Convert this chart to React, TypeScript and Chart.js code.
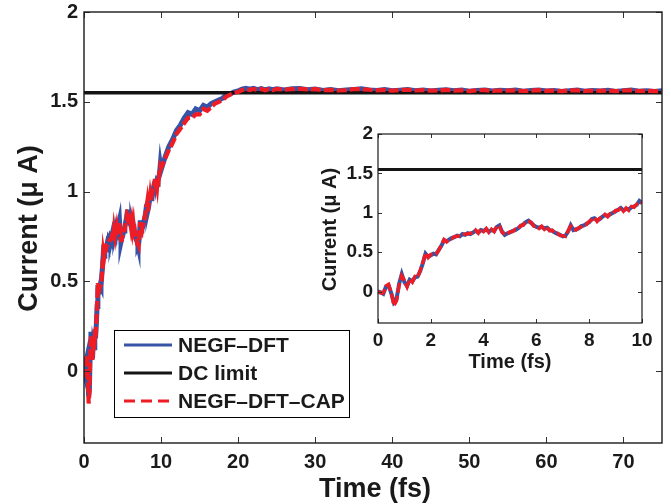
import React, { useEffect, useRef } from 'react';
import { Chart, registerables } from 'chart.js';

Chart.register(...registerables);

// ---------- data ----------
const timeFs = [
  0, 0.1, 0.2, 0.3, 0.4, 0.5, 0.6, 0.7, 0.8, 0.9,
  1.0, 1.1, 1.2, 1.3, 1.4, 1.5, 1.6, 1.7, 1.8, 1.9,
  2.0, 2.1, 2.2, 2.3, 2.4, 2.5, 2.6, 2.7, 2.8, 2.9,
  3.0, 3.1, 3.2, 3.3, 3.4, 3.5, 3.6, 3.7, 3.8, 3.9,
  4.0, 4.1, 4.2, 4.3, 4.4, 4.5, 4.6, 4.7, 4.8, 4.9,
  5.0, 5.1, 5.2, 5.3, 5.4, 5.5, 5.6, 5.7, 5.8, 5.9,
  6.0, 6.1, 6.2, 6.3, 6.4, 6.5, 6.6, 6.7, 6.8, 6.9,
  7.0, 7.1, 7.2, 7.3, 7.4, 7.5, 7.6, 7.7, 7.8, 7.9,
  8.0, 8.1, 8.2, 8.3, 8.4, 8.5, 8.6, 8.7, 8.8, 8.9,
  9.0, 9.1, 9.2, 9.3, 9.4, 9.5, 9.6, 9.7, 9.8, 9.9,
  10.0,
  10.5, 11, 11.5, 12, 12.5, 13, 13.5, 14, 14.5, 15,
  15.5, 16, 16.5, 17, 17.5, 18, 18.5, 19, 19.5, 20,
  20.5, 21, 21.5, 22, 22.5, 23, 23.5, 24, 24.5, 25,
  26, 27, 28, 29, 30, 31, 32, 33, 34, 35,
  36, 37, 38, 39, 40, 41, 42, 43, 44, 45,
  46, 47, 48, 49, 50, 51, 52, 53, 54, 55,
  56, 57, 58, 59, 60, 61, 62, 63, 64, 65,
  66, 67, 68, 69, 70, 71, 72, 73, 74, 75,
];

const negfDft = [
  0.00, -0.01, -0.03, 0.06, 0.08, -0.02, -0.14, -0.10, 0.10, 0.22,
  0.12, 0.07, 0.15, 0.13, 0.18, 0.19, 0.26, 0.36, 0.48, 0.44,
  0.46, 0.48, 0.47, 0.53, 0.58, 0.65, 0.64, 0.66, 0.68, 0.69,
  0.71, 0.70, 0.73, 0.72, 0.74, 0.73, 0.75, 0.77, 0.75, 0.78,
  0.77, 0.79, 0.76, 0.78, 0.77, 0.82, 0.84, 0.76, 0.72, 0.74,
  0.75, 0.77, 0.78, 0.80, 0.83, 0.85, 0.88, 0.90, 0.87, 0.84,
  0.82, 0.81, 0.82, 0.80, 0.81, 0.78, 0.77, 0.75, 0.73, 0.72,
  0.70, 0.71, 0.76, 0.84, 0.78, 0.79, 0.80, 0.83, 0.84, 0.86,
  0.88, 0.92, 0.93, 0.90, 0.92, 0.95, 0.97, 0.96, 0.98, 1.00,
  1.02, 1.04, 1.06, 1.03, 1.05, 1.04, 1.07, 1.08, 1.10, 1.15,
  1.12,
  1.19, 1.25, 1.29, 1.34, 1.37, 1.41, 1.44, 1.43, 1.46, 1.45,
  1.48, 1.47, 1.49, 1.50, 1.51, 1.52, 1.54, 1.545, 1.555, 1.56,
  1.57, 1.575, 1.57, 1.575, 1.568, 1.574, 1.566, 1.572, 1.567, 1.573,
  1.566, 1.572, 1.574, 1.567, 1.571, 1.563, 1.568, 1.561, 1.566, 1.569,
  1.572, 1.566, 1.563, 1.568, 1.561, 1.565, 1.568, 1.562, 1.566, 1.56,
  1.564, 1.567, 1.561, 1.565, 1.559, 1.563, 1.566, 1.56, 1.564, 1.561,
  1.565, 1.559, 1.563, 1.566, 1.56, 1.563, 1.558, 1.562, 1.565, 1.559,
  1.563, 1.56, 1.564, 1.558, 1.562, 1.565, 1.559, 1.562, 1.558, 1.561,
];

const negfDftCap = [
  0.00, -0.02, -0.02, 0.07, 0.09, -0.01, -0.18, -0.12, 0.08, 0.20,
  0.14, 0.06, 0.16, 0.12, 0.19, 0.18, 0.27, 0.37, 0.49, 0.43,
  0.47, 0.47, 0.48, 0.52, 0.59, 0.66, 0.63, 0.66, 0.67, 0.70,
  0.70, 0.71, 0.72, 0.73, 0.73, 0.74, 0.74, 0.78, 0.74, 0.79,
  0.76, 0.80, 0.75, 0.79, 0.76, 0.83, 0.83, 0.75, 0.73, 0.73,
  0.76, 0.76, 0.79, 0.79, 0.84, 0.84, 0.89, 0.89, 0.88, 0.83,
  0.83, 0.80, 0.83, 0.79, 0.82, 0.77, 0.78, 0.74, 0.74, 0.71,
  0.71, 0.70, 0.77, 0.83, 0.79, 0.78, 0.81, 0.82, 0.85, 0.85,
  0.89, 0.91, 0.94, 0.89, 0.93, 0.94, 0.98, 0.95, 0.99, 0.99,
  1.03, 1.03, 1.07, 1.02, 1.06, 1.03, 1.08, 1.07, 1.11, 1.14,
  1.13,
  1.18, 1.23, 1.27, 1.32, 1.35, 1.38, 1.41, 1.41, 1.43, 1.43,
  1.46, 1.45, 1.47, 1.49, 1.50, 1.51, 1.53, 1.54, 1.55, 1.555,
  1.565, 1.57, 1.565, 1.572, 1.566, 1.571, 1.564, 1.57, 1.565, 1.571,
  1.568, 1.57, 1.572, 1.569, 1.57, 1.565, 1.566, 1.563, 1.565, 1.57,
  1.57, 1.567, 1.564, 1.566, 1.562, 1.566, 1.567, 1.563, 1.565, 1.562,
  1.563, 1.566, 1.562, 1.564, 1.56, 1.564, 1.565, 1.561, 1.563, 1.562,
  1.564, 1.56, 1.562, 1.565, 1.561, 1.562, 1.559, 1.563, 1.564, 1.56,
  1.562, 1.561, 1.563, 1.559, 1.563, 1.564, 1.56, 1.561, 1.559, 1.56,
];

const dcLimitTime = [0, 75];
const dcLimitValue = [1.55, 1.55];

const seriesLabels = ['NEGF\u2013DFT', 'DC limit', 'NEGF\u2013DFT\u2013CAP'];

const mainXTicks = [0, 10, 20, 30, 40, 50, 60, 70];
const mainYTicks = [0, 0.5, 1, 1.5, 2];
const insetXTicks = [0, 2, 4, 6, 8, 10];
const insetYTicks = [0, 0.5, 1, 1.5, 2];

const xTitle = 'Time (fs)';
const yTitle = 'Current (\u03bc A)';

// ---------- styles ----------
const FONT = '"Liberation Sans", Arial, Helvetica, sans-serif';
const BLUE = '#3653a5';
const RED = '#ee1d25';
const BLACK = '#141414';
const INK = '#1a1a1a';

function buildDatasets(blueW: number, redW: number, dcW: number) {
  return [
    {
      label: seriesLabels[0],
      data: timeFs.map((t, i) => ({ x: t, y: negfDft[i] })),
      borderColor: BLUE,
      borderWidth: blueW,
      pointRadius: 0,
      tension: 0,
      order: 3,
    },
    {
      label: seriesLabels[1],
      data: dcLimitTime.map((t, i) => ({ x: t, y: dcLimitValue[i] })),
      borderColor: BLACK,
      borderWidth: dcW,
      pointRadius: 0,
      tension: 0,
      order: 2,
    },
    {
      label: seriesLabels[2],
      data: timeFs.map((t, i) => ({ x: t, y: negfDftCap[i] })),
      borderColor: RED,
      borderWidth: redW,
      borderDash: [10, 3],
      pointRadius: 0,
      tension: 0,
      order: 1,
    },
  ];
}

const framePlugin = {
  id: 'frame',
  beforeDraw(chart: any, _args: any, opts: any) {
    if (opts.whiteBg) {
      const a = chart.chartArea;
      const ctx = chart.ctx;
      ctx.save();
      ctx.fillStyle = '#ffffff';
      ctx.fillRect(a.left, a.top, a.right - a.left, a.bottom - a.top);
      ctx.restore();
    }
  },
  afterDraw(chart: any, _args: any, opts: any) {
    const { ctx, chartArea: a, scales } = chart;
    ctx.save();
    // inward ticks
    ctx.strokeStyle = '#333333';
    ctx.lineWidth = 1;
    const L = opts.tickLen;
    ctx.beginPath();
    (opts.xTicks as number[]).forEach((v) => {
      const px = Math.round(scales.x.getPixelForValue(v)) + 0.5;
      ctx.moveTo(px, a.bottom);
      ctx.lineTo(px, a.bottom - L);
      ctx.moveTo(px, a.top);
      ctx.lineTo(px, a.top + L);
    });
    (opts.yTicks as number[]).forEach((v) => {
      const py = Math.round(scales.y.getPixelForValue(v)) + 0.5;
      ctx.moveTo(a.left, py);
      ctx.lineTo(a.left + L, py);
      ctx.moveTo(a.right, py);
      ctx.lineTo(a.right - L, py);
    });
    ctx.stroke();
    // frame
    ctx.strokeStyle = INK;
    ctx.lineWidth = opts.frameWidth;
    ctx.strokeRect(a.left, a.top, a.right - a.left, a.bottom - a.top);

    // titles
    ctx.fillStyle = INK;
    ctx.font = `bold ${opts.titleSize}px ${FONT}`;
    ctx.textAlign = 'center';
    ctx.textBaseline = 'alphabetic';
    ctx.fillText(xTitle, (a.left + a.right) / 2 + opts.xTitleDx, opts.xTitleBaseline);
    ctx.save();
    ctx.translate(opts.yTitleBaseline, (a.top + a.bottom) / 2 + opts.yTitleDy);
    ctx.rotate(-Math.PI / 2);
    ctx.fillText(yTitle, 0, 0);
    ctx.restore();

    // legend
    if (opts.legend) {
      const lg = opts.legend;
      ctx.fillStyle = '#ffffff';
      ctx.fillRect(lg.x, lg.y, lg.w, lg.h);
      ctx.strokeStyle = '#000000';
      ctx.lineWidth = 1;
      ctx.strokeRect(lg.x + 0.5, lg.y + 0.5, lg.w, lg.h);
      const ds = chart.data.datasets;
      ctx.font = `bold ${lg.fontSize}px ${FONT}`;
      ctx.textAlign = 'left';
      ctx.textBaseline = 'middle';
      ds.forEach((d: any, i: number) => {
        const y = lg.rows[i];
        ctx.beginPath();
        ctx.strokeStyle = d.borderColor;
        ctx.lineWidth = lg.lineWidth;
        ctx.setLineDash(d.borderDash ? lg.dash : []);
        ctx.moveTo(lg.lineX0, y);
        ctx.lineTo(lg.lineX1, y);
        ctx.stroke();
        ctx.setLineDash([]);
        ctx.fillStyle = INK;
        ctx.fillText(d.label, lg.textX, y + 1);
      });
    }
    ctx.restore();
  },
};

function makeScales(xMax: number, xTicks: number[], yTicks: number[], yWidth: number, xHeight: number, fontSize: number, yPad: number, xPad: number) {
  return {
    x: {
      type: 'linear' as const,
      min: 0,
      max: xMax,
      grid: { display: false, drawTicks: false },
      border: { display: false },
      afterBuildTicks: (s: any) => {
        s.ticks = xTicks.map((v) => ({ value: v }));
      },
      afterFit: (s: any) => {
        s.height = xHeight;
        s.paddingLeft = 0;
        s.paddingRight = 0;
        s.paddingTop = 0;
        s.paddingBottom = 0;
      },
      ticks: {
        autoSkip: false,
        maxRotation: 0,
        padding: xPad,
        color: INK,
        font: { family: FONT, size: fontSize, weight: 'bold' as const },
        callback: (v: any) => String(v),
      },
    },
    y: {
      type: 'linear' as const,
      min: -0.4,
      max: 2,
      grid: { display: false, drawTicks: false },
      border: { display: false },
      afterBuildTicks: (s: any) => {
        s.ticks = yTicks.map((v) => ({ value: v }));
      },
      afterFit: (s: any) => {
        s.width = yWidth;
        s.paddingLeft = 0;
        s.paddingRight = 0;
        s.paddingTop = 0;
        s.paddingBottom = 0;
      },
      ticks: {
        autoSkip: false,
        padding: yPad,
        color: INK,
        font: { family: FONT, size: fontSize, weight: 'bold' as const },
        callback: (v: any) => String(v),
      },
    },
  };
}

export default function App() {
  const mainRef = useRef<HTMLCanvasElement | null>(null);
  const insetRef = useRef<HTMLCanvasElement | null>(null);

  useEffect(() => {
    if (!mainRef.current || !insetRef.current) return;
    const main = new Chart(mainRef.current, {
      type: 'line',
      data: { datasets: buildDatasets(5, 4.2, 3.4) as any },
      options: {
        animation: false,
        responsive: false,
        devicePixelRatio: 1,
        layout: { padding: { top: 12, right: 9, left: 0, bottom: 0 } },
        scales: makeScales(75, mainXTicks, mainYTicks, 84, 61, 20, 6, 7) as any,
        plugins: {
          legend: { display: false },
          tooltip: { enabled: false },
          frame: {
            tickLen: 6,
            frameWidth: 1.4,
            xTicks: mainXTicks,
            yTicks: mainYTicks,
            titleSize: 27,
            xTitleDx: 2,
            xTitleBaseline: 497,
            yTitleBaseline: 37,
            yTitleDy: 1,
            legend: {
              x: 114,
              y: 330,
              w: 235,
              h: 87,
              rows: [345, 373, 401],
              lineX0: 124,
              lineX1: 172,
              textX: 178,
              fontSize: 21,
              lineWidth: 3,
              dash: [11, 6],
            },
          },
        } as any,
      },
      plugins: [framePlugin as any],
    });

    const inset = new Chart(insetRef.current, {
      type: 'line',
      data: { datasets: buildDatasets(4, 3.4, 3) as any },
      options: {
        animation: false,
        responsive: false,
        devicePixelRatio: 1,
        layout: { padding: { top: 14, right: 29, left: 0, bottom: 0 } },
        scales: makeScales(10, insetXTicks, insetYTicks, 78, 52, 19, 5, 6) as any,
        plugins: {
          legend: { display: false },
          tooltip: { enabled: false },
          frame: {
            whiteBg: true,
            tickLen: 4,
            frameWidth: 1.2,
            xTicks: insetXTicks,
            yTicks: insetYTicks,
            titleSize: 20,
            xTitleDx: 0,
            xTitleBaseline: 248,
            yTitleBaseline: 36,
            yTitleDy: 1,
          },
        } as any,
      },
      plugins: [framePlugin as any],
    });

    return () => {
      main.destroy();
      inset.destroy();
    };
  }, []);

  return (
    <div style={{ position: 'absolute', left: 0, top: 0, width: 671, height: 504, background: '#ffffff' }}>
      <canvas ref={mainRef} width={671} height={504} style={{ position: 'absolute', left: 0, top: 0, width: 671, height: 504 }} />
      <canvas ref={insetRef} width={371} height={255} style={{ position: 'absolute', left: 300, top: 120, width: 371, height: 255 }} />
    </div>
  );
}
